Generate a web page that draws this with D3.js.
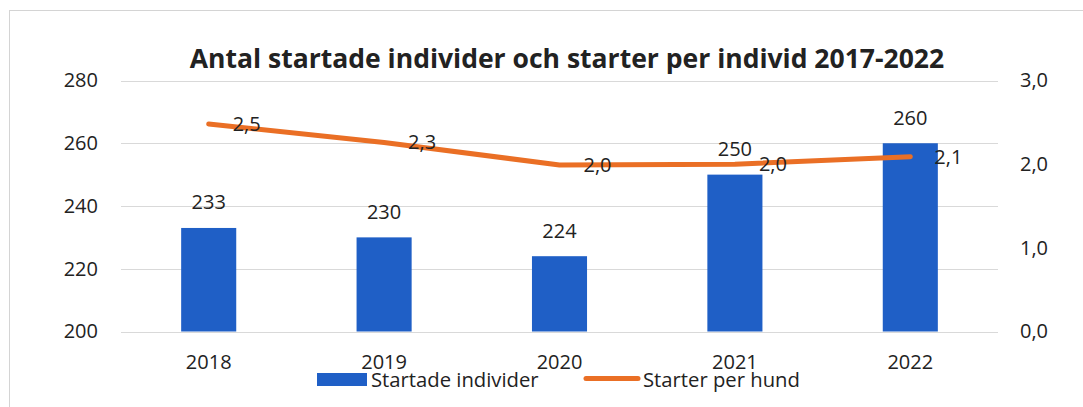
<!DOCTYPE html>
<html><head><meta charset="utf-8">
<script src="https://cdn.jsdelivr.net/npm/d3@7"></script>
<style>body{margin:0;background:#fff}svg{display:block}text{font-family:"Open Sans","Noto Sans",sans-serif;fill:#222}</style>
</head><body><svg id="c" width="1083" height="407"></svg>
<script>
const years = ["2018","2019","2020","2021","2022"];
const individer = [233,230,224,250,260];
const starterPerHund = [2.48,2.26,1.99,2.0,2.09];
const leftTicks = [200,220,240,260,280];
const rightTicks = [0,1,2,3];
const title = "Antal startade individer och starter per individ 2017-2022";
const seriesNames = ["Startade individer","Starter per hund"];

const svg = d3.select("#c");
const m = {l:121, r:998, t:80.5, b:331.5};
const x = d3.scaleBand().domain(years).range([m.l,m.r]).paddingInner(0.686).paddingOuter(0.343);
const yL = d3.scaleLinear().domain([200,280]).range([m.b,m.t]);
const yR = d3.scaleLinear().domain([0,3]).range([m.b,m.t]);
const blue = "#1f5fc6", orange = "#ea6f25";
const fmt = v => d3.format(".1f")(v).replace(".", ",");
const FS = 20;

// outer border
svg.append("rect").attr("x",9.5).attr("y",10.5).attr("width",1080).attr("height",410)
  .attr("fill","none").attr("stroke","#d4d4d4");

// gridlines
svg.append("g").selectAll("line").data(leftTicks).join("line")
  .attr("x1",m.l).attr("x2",m.r).attr("y1",d=>Math.round(yL(d))+0.5).attr("y2",d=>Math.round(yL(d))+0.5)
  .attr("stroke","#d9d9d9").attr("stroke-width",1);

function styleAxis(g){
  g.select(".domain").remove();
  g.selectAll("text").attr("font-size",FS).attr("fill","#222").style("font-family",'"Open Sans",sans-serif');
}
// left axis
svg.append("g").attr("transform",`translate(${m.l-23},0)`)
  .call(d3.axisLeft(yL).tickValues(leftTicks).tickSize(0).tickPadding(0)).call(styleAxis);
// right axis
svg.append("g").attr("transform",`translate(${m.r+22},0)`)
  .call(d3.axisRight(yR).tickValues(rightTicks).tickFormat(fmt).tickSize(0).tickPadding(0)).call(styleAxis);
// x axis
const axX = svg.append("g").attr("transform",`translate(0,${m.b})`)
  .call(d3.axisBottom(x).tickSize(0).tickPadding(0)).call(styleAxis);
axX.selectAll("text").attr("dy",null).attr("y",37.5);

// bars
svg.append("g").selectAll("rect").data(individer).join("rect")
  .attr("x",(d,i)=>x(years[i])).attr("width",x.bandwidth())
  .attr("y",d=>yL(d)).attr("height",d=>yL(200)-yL(d)).attr("fill",blue);
svg.append("g").selectAll("text").data(individer).join("text")
  .attr("x",(d,i)=>x(years[i])+x.bandwidth()/2).attr("y",d=>yL(d)-18.5)
  .attr("text-anchor","middle").attr("font-size",FS).text(d=>d);

// line
const cx = i => x(years[i])+x.bandwidth()/2;
const line = d3.line().x((d,i)=>cx(i)).y(d=>yR(d));
svg.append("path").datum(starterPerHund).attr("d",line).attr("fill","none")
  .attr("stroke",orange).attr("stroke-width",5).attr("stroke-linecap","round").attr("stroke-linejoin","round");
svg.append("g").selectAll("text").data(starterPerHund).join("text")
  .attr("x",(d,i)=>cx(i)+24).attr("y",d=>yR(d)).attr("dy","0.35em")
  .attr("font-size",FS).text(d=>fmt(d));

// title
const t = svg.append("text").attr("x",567).attr("y",68).attr("text-anchor","middle")
  .attr("font-size",24).attr("font-weight","bold").attr("fill","#222").text(title);
t.attr("font-size",24*755/t.node().getComputedTextLength());

// legend
const lg = svg.append("g");
lg.append("rect").attr("x",317).attr("y",373).attr("width",50).attr("height",13).attr("fill",blue);
const l1 = lg.append("text").attr("x",371).attr("y",387).attr("font-size",FS).text(seriesNames[0]);
lg.append("line").attr("x1",586).attr("x2",638).attr("y1",378.5).attr("y2",378.5)
  .attr("stroke",orange).attr("stroke-width",5).attr("stroke-linecap","round");
const l2 = lg.append("text").attr("x",643).attr("y",387).attr("font-size",FS).text(seriesNames[1]);
const k = 157/l2.node().getComputedTextLength();
l1.attr("font-size",FS*k); l2.attr("font-size",FS*k);
</script></body></html>
